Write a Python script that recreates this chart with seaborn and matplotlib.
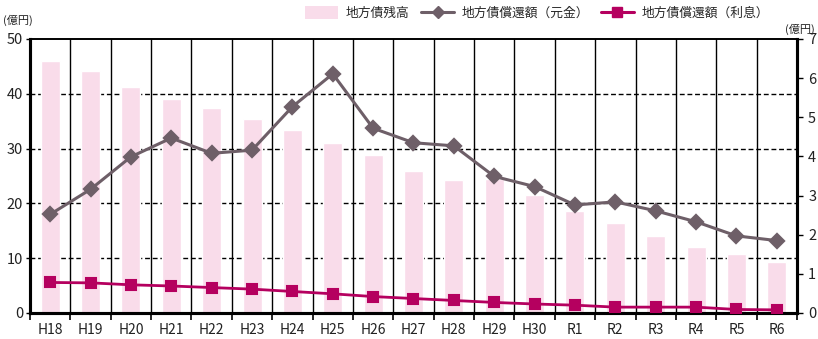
import matplotlib
matplotlib.use("Agg")
import matplotlib.pyplot as plt
from matplotlib.patches import Patch
from matplotlib.lines import Line2D
from matplotlib.ticker import MultipleLocator, FixedLocator
import pandas as pd
import seaborn as sns

# 年度
years = ["H18", "H19", "H20", "H21", "H22", "H23", "H24", "H25", "H26", "H27",
         "H28", "H29", "H30", "R1", "R2", "R3", "R4", "R5", "R6"]
# 地方債残高（億円, 左軸）
balance = [46.0, 44.2, 41.2, 39.0, 37.4, 35.4, 33.4, 31.0, 28.8, 25.9,
           24.3, 24.4, 21.5, 18.6, 16.5, 14.1, 12.0, 10.8, 9.3]
# 地方債償還額（元金）（億円, 右軸）
principal = [2.52, 3.16, 3.99, 4.47, 4.08, 4.16, 5.27, 6.11, 4.72, 4.35,
             4.27, 3.49, 3.23, 2.76, 2.84, 2.61, 2.33, 1.97, 1.85]
# 地方債償還額（利息）（億円, 右軸）
interest = [0.78, 0.77, 0.72, 0.69, 0.65, 0.61, 0.55, 0.49, 0.42, 0.37,
            0.32, 0.27, 0.23, 0.20, 0.15, 0.15, 0.15, 0.09, 0.08]

label_balance = "地方債残高"
label_principal = "地方債償還額（元金）"
label_interest = "地方債償還額（利息）"
unit = "(億円)"

df = pd.DataFrame({"year": years, "balance": balance,
                   "principal": principal, "interest": interest})

sns.set_theme(style="white")
plt.rcParams["font.family"] = ["Noto Sans CJK JP", "DejaVu Sans"]

c_bar = "#F9DCEA"
c_prin = "#6E5F68"
c_int = "#B5005F"

fig = plt.figure(figsize=(8.18, 3.39), dpi=100)
ax = fig.add_axes([30 / 818, 26 / 339, 767 / 818, 274 / 339])

sns.barplot(data=df, x="year", y="balance", order=years, color=c_bar,
            width=0.47, saturation=1, ax=ax, zorder=2)
ax.set_ylim(0, 50)
ax.set_xlim(-0.5, len(years) - 0.5)
ax.yaxis.set_major_locator(MultipleLocator(10))

ax2 = ax.twinx()
sns.pointplot(data=df, x="year", y="principal", order=years, color=c_prin,
              markers="D", markersize=7.0, linewidth=2.2, errorbar=None,
              ax=ax2, zorder=4)
sns.pointplot(data=df, x="year", y="interest", order=years, color=c_int,
              markers="s", markersize=7.5, linewidth=2.0, errorbar=None,
              ax=ax2, zorder=5)
ax2.set_ylim(0, 7)
ax2.set_xlim(-0.5, len(years) - 0.5)
ax2.yaxis.set_major_locator(MultipleLocator(1))

for a in (ax, ax2):
    a.set_xlabel("")
    a.set_ylabel("")
    a.grid(False)

# 区切り線（年度境界）
bounds = [i - 0.5 for i in range(1, len(years))]
ax.xaxis.set_minor_locator(FixedLocator([-0.5] + bounds + [len(years) - 0.5]))
for b in bounds:
    ax.axvline(b, color="black", lw=1.0, zorder=1)
for v in (10, 20, 30, 40):
    ax.axhline(v, color="black", lw=1.0, ls=(0, (3.5, 2)), zorder=1)

ax.tick_params(axis="x", which="major", length=0, pad=7, labelsize=10,
               labelcolor="#222222")
ax.tick_params(axis="x", which="minor", length=5, width=1.2, color="black",
               direction="out", bottom=True)
ax.tick_params(axis="y", length=3, width=1.0, color="black", direction="out",
               left=True, labelsize=10.5, pad=2, labelcolor="#222222")
ax2.tick_params(axis="y", length=4, width=1.0, color="black", direction="out",
                right=True, labelsize=10.5, pad=4, labelcolor="#222222")

for a in (ax, ax2):
    for s in ("left", "bottom", "right"):
        a.spines[s].set_linewidth(2.2)
        a.spines[s].set_color("black")
    a.spines["top"].set_linewidth(1.2)
    a.spines["top"].set_color("black")

fig.text(3 / 818, 1 - 20 / 339, unit, fontsize=8, va="center", ha="left",
         color="#222222")
fig.text(815 / 818, 1 - 29 / 339, unit, fontsize=8, va="center", ha="right",
         color="#222222")

handles = [
    Patch(facecolor=c_bar, edgecolor="none", label=label_balance),
    Line2D([0], [0], color=c_prin, lw=2.2, marker="D", markersize=6.5,
           label=label_principal),
    Line2D([0], [0], color=c_int, lw=2.2, marker="s", markersize=7,
           label=label_interest),
]
fig.legend(handles=handles, ncol=3, loc="center", frameon=False,
           bbox_to_anchor=(537 / 818, 1 - 13 / 339), fontsize=9.2,
           handlelength=2.6, handleheight=1.2, columnspacing=0.9,
           handletextpad=0.6)

fig.savefig("out.png", dpi=100)
